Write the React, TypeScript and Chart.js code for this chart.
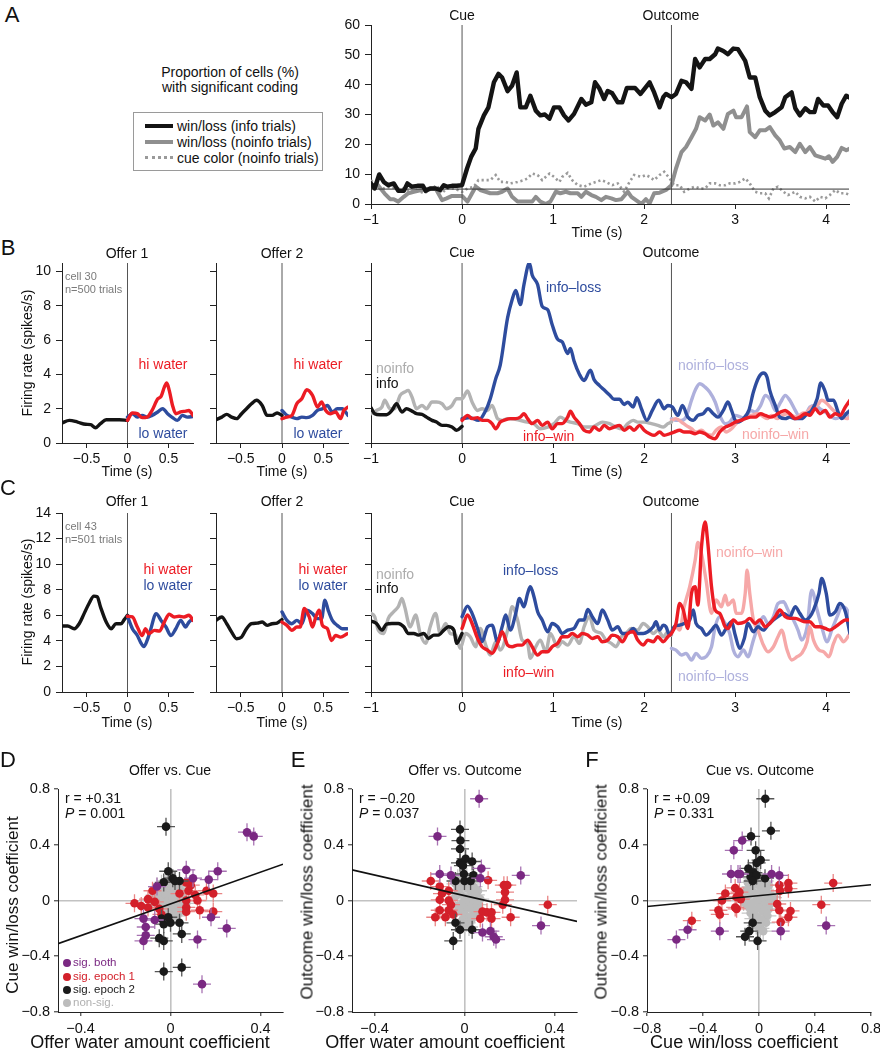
import React, { useEffect, useRef } from "react";
import { Chart, registerables } from "chart.js";

Chart.register(...registerables);

const FONT = '"Liberation Sans", Arial, Helvetica, sans-serif';
Chart.defaults.font.family = FONT;

// ================= DATA =================
// ---- Panel A: proportion of cells (%) ----
const aTimeTicks = [-1, 0, 1, 2, 3, 4];
const aPctTicks = [0, 10, 20, 30, 40, 50, 60];
const trialEvents = [0, 2.3];
const chanceLevel = 5;

const aInfoT = [-1,-0.96,-0.91,-0.86,-0.81,-0.75,-0.70,-0.64,-0.60,-0.55,-0.49,-0.43,-0.40,-0.35,-0.29,-0.24,-0.20,-0.16,-0.11,-0.06,0,0.055,0.10,0.15,0.18,0.24,0.29,0.35,0.40,0.44,0.50,0.55,0.60,0.64,0.70,0.75,0.81,0.86,0.91,0.96,1.01,1.07,1.12,1.17,1.23,1.31,1.36,1.42,1.46,1.51,1.56,1.60,1.65,1.71,1.76,1.81,1.87,1.90,1.96,2.06,2.11,2.17,2.21,2.24,2.30,2.35,2.41,2.46,2.52,2.56,2.61,2.67,2.72,2.78,2.81,2.87,2.92,2.98,3.03,3.11,3.16,3.22,3.27,3.33,3.38,3.44,3.51,3.55,3.62,3.66,3.71,3.77,3.82,3.87,3.91,3.97,4.02,4.07,4.12,4.17,4.22,4.26];
const aInfoV = [6.9,5.2,9.9,7.4,6.3,6.9,4.4,4.4,6.9,5.8,6.1,6.1,4.4,5.2,5.2,4.7,6.3,5.8,6.1,6.1,6.3,11.9,15.8,18.6,25.2,29.7,32.4,40.8,43.6,42.4,37.8,39.7,44.1,32.4,32.4,36.3,31.3,29.7,30.0,28.6,32.4,32.4,29.7,28.0,30.2,35.2,33.3,34.1,40.8,38.6,35.2,37.9,37.1,34.1,34.1,38.9,38.9,38.9,36.9,40.8,37.4,32.4,35.8,36.9,35.8,36.9,41.3,40.8,38.6,48.6,45.8,48.6,48.6,50.2,52.1,51.3,50.2,52.1,51.9,48,42.4,42.4,35.8,31.3,29.7,30.8,32.4,35.8,37.4,32.1,29.7,32.1,30.8,30.8,35.2,33,33,30.8,29.1,33.6,36.3,35.6];

const aNoinfoT = [-1,-0.93,-0.85,-0.79,-0.75,-0.70,-0.64,-0.59,-0.53,-0.40,-0.29,-0.22,-0.17,-0.11,-0.06,0,0.06,0.11,0.15,0.20,0.26,0.31,0.39,0.44,0.50,0.55,0.61,0.66,0.72,0.77,0.81,0.86,0.92,0.97,1.03,1.08,1.14,1.19,1.27,1.31,1.36,1.42,1.47,1.53,1.58,1.64,1.69,1.75,1.82,1.86,1.91,1.97,2.02,2.06,2.11,2.17,2.24,2.30,2.35,2.41,2.46,2.52,2.57,2.61,2.67,2.72,2.76,2.81,2.87,2.92,2.98,3.01,3.07,3.13,3.16,3.22,3.27,3.33,3.38,3.44,3.49,3.54,3.60,3.66,3.71,3.77,3.82,3.88,3.93,3.99,4.03,4.07,4.12,4.17,4.22,4.26];
const aNoinfoV = [6.3,6.5,3.5,1.6,1.6,0.8,2.4,3.6,4.1,5.0,5.2,1.3,1.9,2.7,2.7,2.7,0.8,3.6,5.8,4.7,4.1,3.6,3.6,4.1,5.2,2.4,0.8,0.8,0.8,0.8,2.4,0.8,0,0.8,4.1,3.6,4.1,3.6,3.6,2.4,4.1,3.0,2.4,1.3,2.4,1.9,1.3,1.6,4.1,2.4,1.3,0,1.6,0.2,3.6,3.8,4.7,6.3,11.9,17.4,19.1,22.4,25.2,29.1,28,30,26.3,27.4,25.2,30.2,31.3,29.1,29.1,32.7,24.1,22.4,24.7,24.7,25.8,23,21.3,18.6,19.1,17.4,20.2,17.4,19.1,16.3,15.8,15.2,16,14.1,15.8,18.8,18,18.6];

const aCueT = [-1,-0.94,-0.86,-0.79,-0.72,-0.64,-0.57,-0.50,-0.42,-0.35,-0.28,-0.22,-0.17,-0.09,0,0.06,0.13,0.18,0.26,0.31,0.37,0.42,0.48,0.53,0.61,0.68,0.72,0.77,0.83,0.88,0.96,1.01,1.07,1.10,1.16,1.21,1.27,1.34,1.42,1.47,1.53,1.58,1.65,1.71,1.78,1.84,1.89,1.97,2.02,2.06,2.11,2.17,2.22,2.28,2.33,2.39,2.44,2.50,2.56,2.61,2.67,2.72,2.78,2.83,2.89,2.94,3.00,3.05,3.11,3.16,3.22,3.27,3.33,3.37,3.42,3.47,3.53,3.58,3.66,3.71,3.77,3.82,3.88,3.93,3.99,4.04,4.10,4.15,4.21,4.26];
const aCueV = [8,5.8,5.2,5.8,5.2,5.2,4.1,4.7,3.6,4.7,6.3,3.6,5.2,5.2,4.1,5.2,5.8,8,8,8,9.7,7.4,7.4,6.9,7.4,8,8.6,10.2,9.7,8,10.2,9.1,7.4,9.1,10.4,8,6.3,5.8,6.9,7.4,8,7.4,6.3,6.9,4.1,7.4,9.7,9.1,9.7,9.1,8,9.7,10.8,8.6,6.3,6.3,4.1,5.2,5.8,5.2,5.2,6.9,6.9,6.3,6.3,6.9,6.9,7.4,8.6,6.9,4.1,3.6,3.6,1.9,5.2,5.8,4.1,3.0,4.1,2.4,1.9,2.4,0.8,2.4,1.9,3.0,4.7,3.6,3.6,3.0];

// ---- Panels B / C shared ticks ----
const offerTicks = [-0.5, 0, 0.5];
const offerEvents = [0];
const bRateTicks = [0, 2, 4, 6, 8, 10];
const cRateTicks = [0, 2, 4, 6, 8, 10, 12, 14];

// ---- Panel B (cell 30) ----
const b1PreT = [-0.8,-0.71,-0.61,-0.51,-0.45,-0.39,-0.33,-0.26,-0.18,-0.10,0];
const b1PreV = [1.17,1.32,1.22,1.09,1.07,0.89,1.13,1.36,1.36,1.36,1.32];
const b1HiT = [0,0.06,0.12,0.18,0.24,0.30,0.37,0.41,0.45,0.48,0.51,0.55,0.59,0.65,0.71,0.75,0.8];
const b1HiV = [1.32,1.75,1.71,1.48,1.51,1.9,2.58,2.72,3.26,3.5,3.07,2.19,1.71,1.81,1.86,1.9,1.61];
const b1LoT = [0,0.06,0.12,0.18,0.24,0.30,0.37,0.43,0.49,0.55,0.61,0.67,0.73,0.8];
const b1LoV = [1.51,1.71,1.51,1.61,1.51,1.61,1.81,2.0,1.71,1.48,1.32,1.61,1.51,1.55];

const b2PreT = [-0.8,-0.73,-0.67,-0.61,-0.55,-0.49,-0.43,-0.37,-0.31,-0.24,-0.18,-0.12,-0.06,0];
const b2PreV = [1.36,1.51,1.67,1.51,1.42,1.71,2.0,2.29,2.49,2.19,1.61,1.61,1.75,1.61];
const b2HiT = [0,0.06,0.12,0.18,0.24,0.30,0.37,0.43,0.48,0.53,0.59,0.65,0.71,0.75,0.8];
const b2HiV = [1.42,1.51,1.61,2.29,2.58,3.11,2.78,2.1,2.39,1.9,1.71,1.81,1.42,1.9,2.1];
const b2LoT = [0,0.06,0.12,0.18,0.24,0.30,0.37,0.43,0.49,0.55,0.61,0.67,0.73,0.8];
const b2LoV = [1.9,1.61,1.51,1.42,1.51,1.48,1.61,1.9,2.0,2.19,1.81,2.0,2.0,1.61];

const bInfoPreT = [-1,-0.96,-0.90,-0.83,-0.77,-0.72,-0.66,-0.61,-0.55,-0.50,-0.44,-0.39,-0.33,-0.28,-0.22,-0.17,-0.11,-0.06,0];
const bInfoPreV = [2.06,1.71,1.65,1.65,1.9,2.29,1.81,2.0,1.86,1.71,1.67,1.51,1.32,1.22,1.03,1.03,0.93,0.74,0.97];
const bNoinfoPreT = [-1,-0.94,-0.88,-0.85,-0.79,-0.74,-0.68,-0.63,-0.59,-0.55,-0.50,-0.44,-0.39,-0.33,-0.28,-0.22,-0.17,-0.11,-0.06,0,0.06,0.11,0.17,0.22,0.28,0.33,0.39,0.44,0.50,0.72,0.79,0.86,0.94,1.01,1.08,1.14,1.19,1.27,1.34,1.42,1.47,1.54,1.62,1.69,1.76,1.82,1.88,1.93,2.0,2.08,2.15,2.21,2.26,2.30];
const bNoinfoPreV = [1.71,1.9,2.1,2.49,2.0,2.0,2.78,2.97,3.07,2.68,2.0,2.19,2.0,2.39,2.39,2.29,2.0,2.19,2.58,2.58,3.03,2.39,1.9,2.0,1.9,2.19,1.42,1.32,1.42,1.22,1.13,0.83,0.93,1.13,1.51,1.32,1.22,1.13,0.93,0.93,1.03,1.22,1.13,0.93,0.83,1.13,1.32,1.22,1.22,1.13,1.03,0.93,1.13,1.22];
const bLossT = [0,0.09,0.18,0.26,0.31,0.37,0.42,0.50,0.55,0.59,0.64,0.68,0.74,0.77,0.83,0.88,0.94,0.99,1.05,1.10,1.16,1.19,1.23,1.29,1.34,1.41,1.45,1.51,1.56,1.62,1.67,1.73,1.78,1.82,1.88,1.92,1.97,2.03,2.09,2.16,2.22,2.26,2.31,2.37,2.42,2.48,2.54,2.59,2.65,2.70,2.76,2.81,2.87,2.92,2.96,3.0,3.03,3.09,3.15,3.20,3.26,3.31,3.35,3.38,3.44,3.49,3.55,3.60,3.66,3.73,3.79,3.84,3.90,3.94,3.99,4.02,4.08,4.13,4.17,4.22,4.26];
const bLossV = [1.42,1.48,1.32,1.9,2.58,3.75,4.56,7.3,8.36,8.9,8.07,9.24,10.5,9.8,9.24,7.97,7.78,6.9,6.05,5.9,5.22,5.52,4.78,4.0,3.65,4.25,3.7,3.35,3.1,2.8,2.55,2.55,2.25,2.38,2.1,2.64,2.0,1.32,1.9,2.49,2.0,2.19,2.1,1.61,2.19,1.51,1.32,1.61,1.71,2.0,1.71,1.51,1.9,2.39,1.9,1.32,1.22,1.42,1.9,2.97,3.84,4.08,3.84,3.07,2.19,1.51,1.42,1.51,1.42,1.42,1.71,1.9,2.58,3.5,2.97,2.49,2.49,1.81,1.42,1.71,1.9];
const bWinT = [0,0.06,0.11,0.17,0.22,0.28,0.33,0.37,0.42,0.48,0.53,0.59,0.64,0.68,0.72,0.77,0.83,0.88,0.94,0.99,1.05,1.10,1.16,1.19,1.23,1.29,1.34,1.40,1.45,1.51,1.56,1.62,1.67,1.73,1.78,1.84,1.89,1.95,2.0,2.06,2.11,2.17,2.22,2.28,2.33,2.39,2.44,2.50,2.56,2.61,2.67,2.72,2.78,2.83,2.89,2.94,3.0,3.06,3.11,3.17,3.22,3.28,3.33,3.39,3.44,3.5,3.55,3.60,3.66,3.71,3.77,3.82,3.88,3.93,3.99,4.04,4.10,4.15,4.21,4.26];
const bWinV = [1.32,1.61,1.42,1.48,1.32,1.32,1.13,0.83,1.22,1.36,1.42,1.42,1.51,1.71,1.42,1.13,1.32,1.03,1.22,0.83,1.13,1.13,1.51,1.86,1.51,1.13,0.74,0.64,0.93,0.74,1.03,0.83,0.93,1.03,0.74,0.93,0.74,1.03,0.74,0.54,0.45,0.64,0.45,0.54,0.64,0.74,0.64,0.64,0.54,0.64,0.54,0.35,0.25,0.64,0.93,1.03,1.22,1.32,1.42,1.51,1.51,1.71,1.61,1.51,1.61,1.81,1.9,1.71,1.42,1.51,1.71,1.61,2.0,1.71,1.9,1.51,1.71,1.61,2.1,2.49];
const bNoLossT = [2.30,2.35,2.41,2.46,2.52,2.56,2.61,2.67,2.72,2.78,2.83,2.89,2.94,3.0,3.06,3.11,3.17,3.22,3.28,3.33,3.39,3.44,3.5,3.55,3.60,3.66,3.71,3.77,3.82,3.88,3.93,3.99,4.04,4.10,4.15,4.21,4.26];
const bNoLossV = [1.42,1.32,1.32,1.51,2.49,3.07,3.46,3.26,2.97,2.39,1.61,1.13,1.22,1.61,1.51,1.42,1.9,1.81,2.19,2.78,2.49,1.9,2.39,2.78,2.49,1.9,1.51,1.61,2.1,2.19,2.0,1.81,1.61,1.42,1.51,1.71,1.51];
const bNoWinT = [2.30,2.35,2.41,2.46,2.52,2.57,2.63,2.68,2.74,2.79,2.85,2.90,2.96,3.01,3.07,3.13,3.18,3.24,3.29,3.35,3.40,3.46,3.51,3.57,3.62,3.68,3.73,3.79,3.84,3.90,3.95,4.01,4.06,4.12,4.18,4.23,4.26];
const bNoWinV = [1.32,1.42,1.22,1.03,0.83,0.64,0.74,0.54,0.45,0.74,0.93,0.64,0.83,1.13,1.32,1.51,1.61,1.71,1.61,1.42,1.61,1.42,1.61,1.71,1.61,1.51,1.71,1.81,2.1,2.19,2.49,2.29,2.0,1.71,1.51,1.42,1.51];

// ---- Panel C (cell 43) ----
const c1PreT = [-0.8,-0.73,-0.65,-0.59,-0.53,-0.47,-0.41,-0.37,-0.33,-0.26,-0.20,-0.14,-0.08,-0.04,0];
const c1PreV = [5.16,5.16,4.95,5.34,6.13,6.92,7.5,7.45,6.66,5.47,4.95,5.34,5.34,5.66,6.0];
const c1HiT = [0,0.06,0.12,0.18,0.22,0.26,0.33,0.39,0.45,0.51,0.57,0.63,0.69,0.75,0.8];
const c1HiV = [5.92,5.87,5.08,4.42,4.95,4.55,4.82,4.76,5.47,6.08,5.87,5.92,5.87,6.0,5.6];
const c1LoT = [0,0.06,0.12,0.16,0.20,0.24,0.28,0.35,0.41,0.47,0.53,0.59,0.65,0.71,0.75,0.8];
const c1LoV = [5.92,4.95,4.42,3.89,3.55,4.03,4.82,6.13,5.6,5.08,4.42,4.95,5.6,5.08,5.47,5.74];

const c2PreT = [-0.8,-0.73,-0.67,-0.61,-0.55,-0.49,-0.43,-0.37,-0.30,-0.24,-0.18,-0.12,-0.06,0];
const c2PreV = [5.6,5.87,5.34,4.68,4.16,4.29,4.95,5.34,5.39,5.47,5.21,5.34,5.39,5.66];
const c2HiT = [0,0.06,0.12,0.18,0.22,0.27,0.33,0.37,0.41,0.45,0.49,0.55,0.60,0.65,0.71,0.79];
const c2HiV = [5.47,5.21,4.82,5.08,5.08,6.53,5.87,5.08,5.87,6.39,5.21,4.95,4.03,4.42,4.29,4.55];
const c2LoT = [0,0.06,0.12,0.18,0.24,0.30,0.37,0.43,0.48,0.52,0.56,0.61,0.67,0.73,0.79];
const c2LoV = [6.26,5.6,5.34,5.6,5.34,6.39,6.13,5.74,5.74,7.18,6.39,5.6,5.21,4.95,4.95];

const cInfoPreT = [-1,-0.94,-0.88,-0.83,-0.77,-0.70,-0.64,-0.59,-0.53,-0.48,-0.42,-0.37,-0.31,-0.26,-0.20,-0.15,-0.09,-0.06,0];
const cInfoPreV = [5.55,5.36,4.84,5.31,5.36,5.36,5.1,4.58,4.58,4.45,4.58,4.19,4.45,4.45,4.84,5.1,4.84,3.8,4.58];
const cNoinfoPreT = [-1,-0.96,-0.92,-0.86,-0.81,-0.75,-0.70,-0.66,-0.63,-0.57,-0.51,-0.46,-0.40,-0.35,-0.29,-0.24,-0.18,-0.13,-0.07,-0.02,0.04,0.09,0.15,0.20,0.26,0.31,0.37,0.42,0.50,0.55,0.61,0.66,0.72,0.75,0.81,0.86,0.92,0.97,1.05,1.10,1.16,1.23,1.29,1.34,1.40,1.45,1.53,1.58,1.64,1.69,1.75,1.80,1.86,1.93,1.99,2.04,2.10,2.15,2.21,2.26,2.30];
const cNoinfoPreV = [6.15,5.89,4.84,4.58,5.76,6.28,6.67,7.32,6.67,5.1,6.02,4.58,3.8,5.1,6.15,4.58,5.36,4.58,4.45,3.41,4.58,4.32,3.54,4.97,3.67,2.89,3.93,3.28,4.84,6.67,5.63,4.06,3.8,2.63,3.54,4.06,3.15,4.58,3.54,3.93,3.67,4.32,3.8,5.1,5.89,4.84,4.58,4.06,3.8,3.54,4.32,4.58,4.97,4.84,5.36,5.1,4.58,4.84,4.32,4.71,4.45];
const cLossT = [0,0.06,0.11,0.17,0.22,0.28,0.33,0.39,0.44,0.48,0.53,0.59,0.63,0.68,0.72,0.75,0.79,0.83,0.88,0.94,0.99,1.05,1.10,1.16,1.23,1.29,1.34,1.38,1.43,1.49,1.54,1.60,1.65,1.71,1.76,1.82,1.88,1.93,1.99,2.04,2.10,2.13,2.17,2.21,2.24,2.28,2.33,2.39,2.44,2.50,2.54,2.57,2.63,2.68,2.74,2.79,2.85,2.90,2.96,3.0,3.05,3.10,3.14,3.20,3.25,3.31,3.36,3.42,3.47,3.53,3.60,3.66,3.71,3.77,3.82,3.86,3.92,3.95,4.0,4.04,4.10,4.15,4.21,4.26];
const cLossV = [5.89,6.72,6.15,4.97,3.93,5.1,5.23,3.93,5.1,6.02,4.84,6.15,7.32,6.67,7.71,8.23,7.45,6.28,5.63,4.71,5.36,5.1,4.58,4.84,4.97,5.63,5.63,6.46,5.89,5.36,6.41,5.63,4.84,5.1,4.58,4.58,4.97,4.58,4.58,4.71,5.1,5.49,4.84,5.23,5.1,4.45,5.1,5.23,5.36,5.63,6.41,5.36,4.97,4.45,4.84,5.23,4.45,4.97,5.49,4.45,3.41,4.19,5.36,4.71,5.1,4.84,5.23,5.63,5.89,6.15,5.89,6.67,6.15,5.63,5.89,6.41,7.71,8.88,7.71,6.02,6.28,6.93,6.28,4.58];
const cWinT = [0,0.06,0.11,0.17,0.22,0.28,0.33,0.39,0.44,0.50,0.55,0.61,0.66,0.72,0.77,0.83,0.88,0.94,0.99,1.05,1.10,1.16,1.21,1.27,1.32,1.38,1.43,1.49,1.54,1.60,1.65,1.71,1.76,1.82,1.88,1.93,1.99,2.04,2.10,2.15,2.21,2.26,2.30,2.35,2.39,2.43,2.48,2.52,2.56,2.59,2.63,2.67,2.70,2.74,2.78,2.83,2.89,2.92,2.98,3.03,3.11,3.16,3.22,3.27,3.33,3.38,3.44,3.49,3.55,3.60,3.66,3.71,3.77,3.82,3.88,3.93,3.99,4.04,4.10,4.15,4.21,4.26];
const cWinV = [4.97,6.02,5.36,4.19,3.54,3.28,3.02,3.8,4.71,3.67,3.54,3.67,3.67,4.06,3.54,2.89,3.15,3.15,3.54,3.8,4.32,4.32,4.58,4.32,4.58,4.45,4.19,4.32,3.93,4.06,4.45,4.32,3.93,4.58,4.71,4.06,3.67,4.06,3.93,4.32,3.93,4.32,4.58,5.36,6.93,6.41,4.97,7.71,8.23,6.8,11.35,13.3,11.6,8.23,6.41,6.15,5.1,4.97,5.63,5.36,5.49,5.76,5.36,5.63,5.1,5.36,5.89,6.41,5.89,5.76,5.76,5.63,5.49,5.49,5.1,5.1,4.97,4.84,5.1,5.36,5.63,5.63];
const cNoWinT = [2.30,2.35,2.39,2.44,2.50,2.56,2.59,2.63,2.68,2.74,2.79,2.85,2.89,2.92,2.98,3.01,3.07,3.11,3.13,3.16,3.20,3.25,3.31,3.36,3.42,3.47,3.51,3.57,3.62,3.68,3.73,3.79,3.82,3.86,3.92,3.97,4.03,4.08,4.13,4.19,4.26];
const cNoWinV = [4.71,5.1,4.84,6.67,8.23,10.3,11.7,10.8,8.75,6.15,7.19,6.67,7.58,6.8,7.19,6.15,6.15,7.71,9.53,7.71,5.63,4.84,3.67,3.15,3.54,4.32,4.84,3.28,2.5,2.76,3.02,3.93,5.1,4.06,3.28,3.15,2.76,3.8,4.45,3.93,4.58];
const cNoLossT = [2.30,2.35,2.41,2.46,2.52,2.57,2.63,2.68,2.74,2.78,2.83,2.89,2.94,2.98,3.03,3.09,3.14,3.20,3.25,3.31,3.36,3.42,3.47,3.53,3.58,3.64,3.69,3.73,3.79,3.84,3.90,3.95,4.01,4.06,4.12,4.17,4.23,4.26];
const cNoLossV = [3.41,3.28,2.89,3.02,2.5,3.02,2.63,2.76,3.54,5.1,5.89,5.36,4.58,3.28,2.76,3.28,2.76,4.06,5.1,5.89,5.36,5.89,6.93,7.06,6.41,5.63,4.84,4.06,5.1,7.97,6.41,5.1,3.93,4.84,5.89,6.67,6.41,5.36];

// ---- Panels D/E/F: coefficient scatter ----
const coefTicks = [-0.8, -0.4, 0, 0.4, 0.8];
const offerCoefTicks = [-0.4, 0, 0.4];

const dBothX = [0.34,0.37,0.07,0.21,0.10,0.17,-0.06,-0.12,-0.07,-0.11,-0.11,-0.12,0.12,0.18,0.25,0.14];
const dBothY = [0.49,0.46,0.22,0.21,0.16,0.15,0.10,-0.13,-0.14,-0.19,-0.25,-0.29,-0.28,-0.12,-0.20,-0.60];
const dEp1X = [-0.16,-0.13,-0.10,-0.10,-0.07,-0.05,-0.08,0.04,0.07,0.07,0.08,0.09,0.11,0.12,0.07,0.13,0.16,0.19,0.19,-0.04,0.07];
const dEp1Y = [-0.02,-0.04,0.01,-0.05,-0.01,-0.06,0.07,0.05,0,-0.05,0.07,0.11,0.04,0,-0.08,-0.07,0.07,0.05,-0.08,-0.10,0.13];
const dEp2X = [-0.02,-0.01,-0.03,0.01,0.04,0.02,-0.04,-0.03,0,0.04,-0.05,-0.03,0.05,-0.03,0.05,-0.01];
const dEp2Y = [0.53,0.21,0.13,0.16,0.14,0.14,-0.13,-0.17,-0.16,-0.16,-0.27,-0.29,-0.24,-0.51,-0.48,-0.12];
const dNsX = [-0.06,-0.04,-0.02,0,0.02,0.04,0.06,-0.07,-0.05,-0.03,-0.01,0.01,0.03,0.05,-0.06,-0.04,-0.02,0,0.02,0.04,-0.05,-0.03,-0.01,0.01,0.03,0.05,-0.04,-0.02,0,0.02,0.04,-0.03,-0.01,0.01,0.03,-0.02,0,0.02,-0.08,0.07];
const dNsY = [0.10,0.12,0.14,0.15,0.12,0.10,0.06,0.04,0.07,0.09,0.10,0.08,0.06,0.02,-0.01,0.02,0.04,0.05,0.03,0.00,-0.04,-0.02,0.00,0.01,-0.03,-0.05,-0.07,-0.05,-0.03,-0.06,-0.08,-0.10,-0.08,-0.10,-0.11,-0.12,-0.13,-0.09,0.00,-0.02];
const dFitX = [-0.5, 0.5];
const dFitY = [-0.31, 0.26];

const eBothX = [0.065,-0.12,-0.11,-0.06,0.075,0.07,0.25,0.08,0.115,0.13,0.14,0.34];
const eBothY = [0.73,0.46,0.19,0.18,0.23,0.16,0.18,-0.23,-0.22,-0.26,-0.28,-0.18];
const eEp1X = [-0.15,-0.11,-0.10,-0.07,-0.11,-0.07,-0.06,-0.11,-0.07,-0.13,-0.085,0.105,0.175,0.19,0.18,0.18,0.17,0.08,0.10,0.12,0.07,0.12,0.205,0.37,-0.05];
const eEp1Y = [0.14,0.10,0.05,0.07,0.005,0,-0.03,-0.07,-0.07,-0.12,-0.12,0.145,0.11,0.11,0.06,0.005,-0.03,-0.08,-0.085,-0.085,-0.13,-0.13,-0.12,-0.03,-0.10];
const eEp2X = [-0.02,-0.018,-0.02,-0.02,0.005,0.034,-0.007,-0.003,0.04,-0.04,0,0.027,-0.04,-0.02,0.034,-0.05];
const eEp2Y = [0.51,0.43,0.37,0.27,0.30,0.28,0.25,0.19,0.18,0.14,0.14,0.14,-0.16,-0.21,-0.21,-0.29];
const eNsX = [-0.04,-0.02,0,0.02,0.04,0.06,-0.03,-0.01,0.01,0.03,0.05,0.07,-0.04,-0.02,0,0.02,0.04,0.06,-0.03,-0.01,0.01,0.03,0.05,-0.04,-0.02,0,0.02,0.04,-0.01,0.01,0.03,0,0.02,-0.03,0.06,0.01];
const eNsY = [0.12,0.14,0.15,0.13,0.10,0.07,0.08,0.10,0.09,0.06,0.04,0.01,0.03,0.05,0.02,0.00,-0.01,-0.03,-0.04,-0.02,-0.05,-0.06,-0.08,-0.09,-0.07,-0.10,-0.12,-0.11,-0.14,-0.16,-0.14,-0.18,-0.19,0.16,-0.06,0.17];
const eFitX = [-0.5, 0.5];
const eFitY = [0.22, -0.15];

const fBothX = [-0.12,-0.18,-0.20,-0.15,-0.135,0.09,0.145,-0.28,-0.51,-0.59,0.155,0.48];
const fBothY = [0.43,0.36,0.19,0.19,0.19,0.19,0.18,-0.22,-0.21,-0.28,-0.22,-0.18];
const fEp1X = [-0.24,-0.17,-0.14,-0.13,-0.16,-0.265,-0.29,-0.28,-0.17,-0.16,-0.48,0.145,0.15,0.21,0.21,0.13,0.145,0.155,0.21,0.225,0.445,0.53];
const fEp1Y = [0.05,0.09,0.06,0.01,0.025,0,-0.07,-0.10,-0.05,-0.06,-0.145,0.11,0.07,0.125,0.085,-0.025,-0.07,-0.155,-0.12,-0.075,-0.03,0.125];
const fEp2X = [0.045,0.085,-0.057,-0.024,0.012,-0.017,-0.076,-0.04,-0.06,-0.017,0.043,-0.045,-0.045,-0.07,-0.10,-0.01];
const fEp2Y = [0.73,0.50,0.46,0.36,0.29,0.27,0.23,0.20,0.17,0.18,0.16,0.14,-0.16,-0.22,-0.26,-0.29];
const fNsX = [-0.08,-0.05,-0.02,0.01,0.04,0.07,-0.09,-0.06,-0.03,0,0.03,0.06,0.09,-0.10,-0.07,-0.04,-0.01,0.02,0.05,0.08,-0.08,-0.05,-0.02,0.01,0.04,0.07,-0.06,-0.03,0,0.03,0.06,-0.04,-0.01,0.02,0.05,-0.02,0.01,0.03,-0.11,0.10];
const fNsY = [0.13,0.16,0.18,0.17,0.14,0.11,0.07,0.10,0.12,0.11,0.09,0.06,0.03,0.01,0.04,0.06,0.05,0.03,0.01,-0.02,-0.04,-0.02,0.00,-0.01,-0.03,-0.06,-0.09,-0.07,-0.05,-0.08,-0.11,-0.13,-0.12,-0.14,-0.16,-0.18,-0.20,-0.22,-0.01,0.02];
const fFitX = [-0.8, 0.8];
const fFitY = [-0.043, 0.113];

// ================= STYLE =================
const TXT = "#111";
const AXIS = "#222";
const EVENT = "#555";
const ZERO = "#c2c2c2";
const RED = "#ec1c24";
const BLUE = "#2e4c9e";
const LAV = "#aeb0dc";
const PINK = "#f6a8a8";
const GRAYL = "#b3b3b3";
const BLACK = "#141414";

const P_BOTH = "#7a2882", P_BOTH_BAR = "#a873b3";
const P_EP1 = "#d3202a", P_EP1_BAR = "#e98585";
const P_EP2 = "#1a1a1a", P_EP2_BAR = "#555555";
const P_NS = "#bcbcbc", P_NS_BAR = "#c6c6c6";

function pts(xs: number[], ys: number[]) {
  return xs.map((x, i) => ({ x, y: ys[i] }));
}
function fmt(v: number) {
  if (Math.abs(v) < 1e-9) return "0";
  return v < 0 ? "\u2212" + String(Math.abs(v)) : String(v);
}

function lineDs(data: any[], color: string, width: number, order: number, extra: any = {}) {
  return {
    data, showLine: true, borderColor: color, backgroundColor: color, borderWidth: width,
    pointRadius: 0, pointHoverRadius: 0, fill: false, order,
    borderJoinStyle: "round", borderCapStyle: "round", ...extra,
  };
}
function smooth(xs: number[], ys: number[], color: string, order: number, width = 3.4) {
  return lineDs(pts(xs, ys), color, width, order, { cubicInterpolationMode: "monotone", tension: 0.4 });
}
function vLines(ts: number[], yMin: number, yMax: number, order: number) {
  return ts.map((t) => lineDs([{ x: t, y: yMin }, { x: t, y: yMax }], EVENT, 1, order, { borderCapStyle: "butt" }));
}

function timeOptions(o: any) {
  return {
    responsive: false,
    animation: false,
    events: [],
    layout: { padding: { top: o.padT, right: o.padR, left: 0, bottom: 0 } },
    plugins: { legend: { display: false }, tooltip: { enabled: false } },
    scales: {
      x: {
        type: "linear", min: o.xMin, max: o.xMax,
        afterBuildTicks: (s: any) => { s.ticks = o.xTicks.map((v: number) => ({ value: v })); },
        afterFit: (s: any) => { s.height = o.xH; },
        ticks: { autoSkip: false, maxRotation: 0, padding: 3, color: TXT, font: { size: 14, family: FONT }, callback: (v: any) => fmt(Number(v)) },
        grid: { drawOnChartArea: false, drawTicks: true, tickLength: 5, tickColor: AXIS, tickWidth: 1 },
        border: { display: true, color: AXIS, width: 1 },
      },
      y: {
        type: "linear", min: o.yMin, max: o.yMax,
        afterBuildTicks: (s: any) => { s.ticks = o.yTicks.map((v: number) => ({ value: v })); },
        afterFit: (s: any) => { s.width = o.yW; },
        ticks: { autoSkip: false, padding: 5, color: TXT, font: { size: 14, family: FONT }, callback: (v: any) => (o.yLabels ? fmt(Number(v)) : "") },
        grid: { drawOnChartArea: false, drawTicks: true, tickLength: 6, tickColor: AXIS, tickWidth: 1 },
        border: { display: true, color: AXIS, width: 1 },
      },
    },
  };
}

function scatterOptions(o: any) {
  const grid = {
    drawOnChartArea: true,
    color: (c: any) => (c.tick && Math.abs(c.tick.value) < 1e-9 ? ZERO : "rgba(0,0,0,0)"),
    lineWidth: 1.6, drawTicks: true, tickLength: 4, tickColor: AXIS, tickWidth: 1,
  };
  return {
    responsive: false,
    animation: false,
    events: [],
    layout: { padding: { top: o.padT, right: o.padR, left: 0, bottom: 0 } },
    plugins: { legend: { display: false }, tooltip: { enabled: false } },
    scales: {
      x: {
        type: "linear", min: o.xMin, max: o.xMax,
        afterBuildTicks: (s: any) => { s.ticks = o.xTicks.map((v: number) => ({ value: v })); },
        afterFit: (s: any) => { s.height = o.xH; },
        ticks: { autoSkip: false, maxRotation: 0, padding: 4, color: TXT, font: { size: 14.5, family: FONT }, callback: (v: any) => fmt(Number(v)) },
        grid, border: { display: true, color: AXIS, width: 1 },
      },
      y: {
        type: "linear", min: -0.8, max: 0.8,
        afterBuildTicks: (s: any) => { s.ticks = coefTicks.map((v: number) => ({ value: v })); },
        afterFit: (s: any) => { s.width = o.yW; },
        ticks: { autoSkip: false, padding: 4, color: TXT, font: { size: 14.5, family: FONT }, callback: (v: any) => fmt(Number(v)) },
        grid, border: { display: true, color: AXIS, width: 1 },
      },
    },
  };
}

function groupDs(xs: number[], ys: number[], dot: string, bar: string, order: number) {
  const data = pts(xs, ys);
  return [
    { data, pointStyle: "circle", pointRadius: 4.3, pointHoverRadius: 4.3, pointBackgroundColor: dot, pointBorderWidth: 0, order },
    { data, pointStyle: "cross", pointRadius: 9, pointHoverRadius: 9, pointBorderColor: bar, pointBackgroundColor: "rgba(0,0,0,0)", pointBorderWidth: 1.3, order: order + 0.5 },
  ];
}
function scatterDatasets(g: any) {
  return [
    lineDs(pts(g.fitX, g.fitY), "#111", 1.6, 0, { borderCapStyle: "butt" }),
    ...groupDs(g.bothX, g.bothY, P_BOTH, P_BOTH_BAR, 1),
    ...groupDs(g.ep2X, g.ep2Y, P_EP2, P_EP2_BAR, 2),
    ...groupDs(g.ep1X, g.ep1Y, P_EP1, P_EP1_BAR, 3),
    ...groupDs(g.nsX, g.nsY, P_NS, P_NS_BAR, 4),
  ];
}

// ================= COMPONENTS =================
function ChartSlot(p: any) {
  const ref = useRef<HTMLCanvasElement | null>(null);
  const left = p.plot.l - p.yW;
  const top = p.plot.t - p.padT;
  const width = p.plot.r + p.padR - left;
  const height = p.plot.b + p.xH - top;
  useEffect(() => {
    const chart = new Chart(ref.current as HTMLCanvasElement, p.build({ yW: p.yW, xH: p.xH, padT: p.padT, padR: p.padR }) as any);
    return () => chart.destroy();
  }, []);
  return <canvas ref={ref} width={width} height={height} style={{ position: "absolute", left, top, width, height }} />;
}

function Tx(p: any) {
  const anchor = p.anchor || "middle";
  const tx = anchor === "middle" ? "-50%" : anchor === "end" ? "-100%" : "0";
  const style: any = {
    position: "absolute", left: p.x, top: p.y,
    transform: p.rotate ? "translate(-50%,-50%) rotate(-90deg)" : `translate(${tx},-50%)`,
    fontSize: p.size || 14, fontFamily: FONT, color: p.color || TXT, whiteSpace: "nowrap", lineHeight: 1,
    fontStyle: p.italic ? "italic" : "normal",
  };
  return <div style={style}>{p.children}</div>;
}

function Dot(p: any) {
  return <div style={{ position: "absolute", left: p.x - 4.3, top: p.y - 4.3, width: 8.6, height: 8.6, borderRadius: "50%", background: p.color }} />;
}

// ================= APP =================
export default function App() {
  const timeChart = (datasets: any[], o: any) => (lay: any) => ({ type: "scatter", data: { datasets }, options: timeOptions({ ...o, ...lay }) });

  const aBuild = timeChart(
    [
      lineDs(pts(aInfoT, aInfoV), BLACK, 4.4, 0),
      lineDs([{ x: -1, y: chanceLevel }, { x: 4.25, y: chanceLevel }], "#333", 1, 1, { borderCapStyle: "butt" }),
      ...vLines(trialEvents, 0, 60, 1),
      lineDs(pts(aNoinfoT, aNoinfoV), "#8f8f8f", 4, 2),
      lineDs(pts(aCueT, aCueV), "#9a9a9a", 2.6, 3, { borderDash: [2.2, 2.8], borderCapStyle: "butt", borderJoinStyle: "miter" }),
    ],
    { xMin: -1, xMax: 4.25, xTicks: aTimeTicks, yMin: 0, yMax: 60, yTicks: aPctTicks, yLabels: true }
  );

  const offerBuild = (pre: any, hi: any, lo: any, yMax: number, yTicks: number[], yLabels: boolean) =>
    timeChart(
      [
        smooth(hi[0], hi[1], RED, 0),
        smooth(lo[0], lo[1], BLUE, 1),
        smooth(pre[0], pre[1], BLACK, 2),
        ...vLines(offerEvents, 0, yMax, 5),
      ],
      { xMin: -0.8, xMax: 0.8, xTicks: offerTicks, yMin: 0, yMax, yTicks, yLabels }
    );

  const trialBuild = (s: any, yMax: number, yTicks: number[]) =>
    timeChart(
      [
        smooth(s.winT, s.winV, RED, 0),
        smooth(s.lossT, s.lossV, BLUE, 1),
        smooth(s.infoT, s.infoV, BLACK, 2),
        smooth(s.noinfoT, s.noinfoV, GRAYL, 3),
        smooth(s.noWinT, s.noWinV, PINK, 4),
        smooth(s.noLossT, s.noLossV, LAV, 5),
        ...vLines(trialEvents, 0, yMax, 6),
      ],
      { xMin: -1, xMax: 4.25, xTicks: aTimeTicks, yMin: 0, yMax, yTicks, yLabels: false }
    );

  const scatterBuild = (g: any, xMin: number, xMax: number, xTicks: number[]) => (lay: any) => ({
    type: "scatter",
    data: { datasets: scatterDatasets(g) },
    options: scatterOptions({ xMin, xMax, xTicks, ...lay }),
  });

  const B_T = 263, B_B = 443, C_T = 513, C_B = 692;
  const S_T = 789, S_B = 1012;

  return (
    <div style={{ position: "absolute", left: 0, top: 0, width: 880, height: 1050, overflow: "hidden", background: "#fff" }}>
      {/* Panel A */}
      <ChartSlot plot={{ l: 371, t: 25, r: 849, b: 204 }} yW={45} xH={26} padT={20} padR={25} build={aBuild} />

      {/* Panel B */}
      <ChartSlot plot={{ l: 62, t: B_T, r: 193, b: B_B }} yW={45} xH={26} padT={20} padR={10} build={offerBuild([b1PreT, b1PreV], [b1HiT, b1HiV], [b1LoT, b1LoV], 10.5, bRateTicks, true)} />
      <ChartSlot plot={{ l: 216, t: B_T, r: 348, b: B_B }} yW={20} xH={26} padT={20} padR={10} build={offerBuild([b2PreT, b2PreV], [b2HiT, b2HiV], [b2LoT, b2LoV], 10.5, bRateTicks, false)} />
      <ChartSlot plot={{ l: 371, t: B_T, r: 849, b: B_B }} yW={20} xH={26} padT={20} padR={25}
        build={trialBuild({ winT: bWinT, winV: bWinV, lossT: bLossT, lossV: bLossV, infoT: bInfoPreT, infoV: bInfoPreV, noinfoT: bNoinfoPreT, noinfoV: bNoinfoPreV, noWinT: bNoWinT, noWinV: bNoWinV, noLossT: bNoLossT, noLossV: bNoLossV }, 10.5, bRateTicks)} />

      {/* Panel C */}
      <ChartSlot plot={{ l: 62, t: C_T, r: 193, b: C_B }} yW={45} xH={26} padT={20} padR={10} build={offerBuild([c1PreT, c1PreV], [c1HiT, c1HiV], [c1LoT, c1LoV], 14, cRateTicks, true)} />
      <ChartSlot plot={{ l: 216, t: C_T, r: 348, b: C_B }} yW={20} xH={26} padT={20} padR={10} build={offerBuild([c2PreT, c2PreV], [c2HiT, c2HiV], [c2LoT, c2LoV], 14, cRateTicks, false)} />
      <ChartSlot plot={{ l: 371, t: C_T, r: 849, b: C_B }} yW={20} xH={26} padT={20} padR={25}
        build={trialBuild({ winT: cWinT, winV: cWinV, lossT: cLossT, lossV: cLossV, infoT: cInfoPreT, infoV: cInfoPreV, noinfoT: cNoinfoPreT, noinfoV: cNoinfoPreV, noWinT: cNoWinT, noWinV: cNoWinV, noLossT: cNoLossT, noLossV: cNoLossV }, 14, cRateTicks)} />

      {/* Panels D E F */}
      <ChartSlot plot={{ l: 58, t: S_T, r: 283, b: S_B }} yW={58} xH={38} padT={20} padR={22}
        build={scatterBuild({ bothX: dBothX, bothY: dBothY, ep1X: dEp1X, ep1Y: dEp1Y, ep2X: dEp2X, ep2Y: dEp2Y, nsX: dNsX, nsY: dNsY, fitX: dFitX, fitY: dFitY }, -0.5, 0.5, offerCoefTicks)} />
      <ChartSlot plot={{ l: 352, t: S_T, r: 577, b: S_B }} yW={58} xH={38} padT={20} padR={22}
        build={scatterBuild({ bothX: eBothX, bothY: eBothY, ep1X: eEp1X, ep1Y: eEp1Y, ep2X: eEp2X, ep2Y: eEp2Y, nsX: eNsX, nsY: eNsY, fitX: eFitX, fitY: eFitY }, -0.5, 0.5, offerCoefTicks)} />
      <ChartSlot plot={{ l: 647, t: S_T, r: 871, b: S_B }} yW={58} xH={38} padT={20} padR={22}
        build={scatterBuild({ bothX: fBothX, bothY: fBothY, ep1X: fEp1X, ep1Y: fEp1Y, ep2X: fEp2X, ep2Y: fEp2Y, nsX: fNsX, nsY: fNsY, fitX: fFitX, fitY: fFitY }, -0.8, 0.8, coefTicks)} />

      {/* ---------- Texts: panel A ---------- */}
      <Tx x={12} y={15} size={22}>A</Tx>
      <Tx x={462} y={15}>Cue</Tx>
      <Tx x={671} y={15}>Outcome</Tx>
      <Tx x={230} y={72}>Proportion of cells (%)</Tx>
      <Tx x={230} y={87}>with significant coding</Tx>
      <div style={{ position: "absolute", left: 133, top: 112, width: 190, height: 59, border: "1px solid #9a9a9a", boxSizing: "border-box" }} />
      <div style={{ position: "absolute", left: 145, top: 124, width: 28, height: 4, background: BLACK }} />
      <div style={{ position: "absolute", left: 145, top: 140, width: 28, height: 4, background: "#8f8f8f" }} />
      <div style={{ position: "absolute", left: 145, top: 156, width: 28, height: 0, borderTop: "3px dotted #9a9a9a" }} />
      <Tx x={177} y={126} anchor="start">win/loss (info trials)</Tx>
      <Tx x={177} y={142} anchor="start">win/loss (noinfo trials)</Tx>
      <Tx x={177} y={158} anchor="start">cue color (noinfo trials)</Tx>
      <Tx x={597} y={232}>Time (s)</Tx>

      {/* ---------- Texts: panel B ---------- */}
      <Tx x={8} y={248} size={22}>B</Tx>
      <Tx x={127} y={253}>Offer 1</Tx>
      <Tx x={282} y={253}>Offer 2</Tx>
      <Tx x={462} y={252}>Cue</Tx>
      <Tx x={671} y={252}>Outcome</Tx>
      <Tx x={65} y={276} anchor="start" size={11} color="#7a7a7a">cell 30</Tx>
      <Tx x={65} y={289} anchor="start" size={11} color="#7a7a7a">n=500 trials</Tx>
      <Tx x={163} y={364} color={RED}>hi water</Tx>
      <Tx x={163} y={433} color={BLUE}>lo water</Tx>
      <Tx x={318} y={364} color={RED}>hi water</Tx>
      <Tx x={318} y={433} color={BLUE}>lo water</Tx>
      <Tx x={376} y={368} anchor="start" color="#acacac">noinfo</Tx>
      <Tx x={376} y={383} anchor="start">info</Tx>
      <Tx x={546} y={287} anchor="start" color={BLUE}>info–loss</Tx>
      <Tx x={678} y={365} anchor="start" color={LAV}>noinfo–loss</Tx>
      <Tx x={523} y={436} anchor="start" color={RED}>info–win</Tx>
      <Tx x={742} y={434} anchor="start" color={PINK}>noinfo–win</Tx>
      <Tx x={27} y={353} rotate>Firing rate (spikes/s)</Tx>
      <Tx x={127} y={471}>Time (s)</Tx>
      <Tx x={282} y={471}>Time (s)</Tx>
      <Tx x={597} y={471}>Time (s)</Tx>

      {/* ---------- Texts: panel C ---------- */}
      <Tx x={8} y={488} size={22}>C</Tx>
      <Tx x={127} y={501}>Offer 1</Tx>
      <Tx x={282} y={501}>Offer 2</Tx>
      <Tx x={462} y={501}>Cue</Tx>
      <Tx x={671} y={501}>Outcome</Tx>
      <Tx x={65} y={526} anchor="start" size={11} color="#7a7a7a">cell 43</Tx>
      <Tx x={65} y={539} anchor="start" size={11} color="#7a7a7a">n=501 trials</Tx>
      <Tx x={168} y={569} color={RED}>hi water</Tx>
      <Tx x={168} y={585} color={BLUE}>lo water</Tx>
      <Tx x={323} y={569} color={RED}>hi water</Tx>
      <Tx x={323} y={585} color={BLUE}>lo water</Tx>
      <Tx x={376} y={574} anchor="start" color="#acacac">noinfo</Tx>
      <Tx x={376} y={588} anchor="start">info</Tx>
      <Tx x={503} y={570} anchor="start" color={BLUE}>info–loss</Tx>
      <Tx x={503} y={672} anchor="start" color={RED}>info–win</Tx>
      <Tx x={716} y={552} anchor="start" color={PINK}>noinfo–win</Tx>
      <Tx x={678} y={676} anchor="start" color={LAV}>noinfo–loss</Tx>
      <Tx x={27} y={602} rotate>Firing rate (spikes/s)</Tx>
      <Tx x={127} y={722}>Time (s)</Tx>
      <Tx x={282} y={722}>Time (s)</Tx>
      <Tx x={597} y={722}>Time (s)</Tx>

      {/* ---------- Texts: panels D E F ---------- */}
      <Tx x={8} y={760} size={22}>D</Tx>
      <Tx x={298} y={760} size={22}>E</Tx>
      <Tx x={592} y={760} size={22}>F</Tx>
      <Tx x={170} y={770}>Offer vs. Cue</Tx>
      <Tx x={465} y={770}>Offer vs. Outcome</Tx>
      <Tx x={760} y={770}>Cue vs. Outcome</Tx>
      <Tx x={65} y={798} anchor="start">r = +0.31</Tx>
      <Tx x={65} y={813} anchor="start"><i>P</i> = 0.001</Tx>
      <Tx x={359} y={798} anchor="start">r = −0.20</Tx>
      <Tx x={359} y={813} anchor="start"><i>P</i> = 0.037</Tx>
      <Tx x={654} y={798} anchor="start">r = +0.09</Tx>
      <Tx x={654} y={813} anchor="start"><i>P</i> = 0.331</Tx>

      <Dot x={67} y={963} color={P_BOTH} />
      <Dot x={67} y={977} color={P_EP1} />
      <Dot x={67} y={990} color={P_EP2} />
      <Dot x={67} y={1003} color={P_NS} />
      <Tx x={73} y={963} anchor="start" size={11.5} color={P_BOTH}>sig. both</Tx>
      <Tx x={73} y={977} anchor="start" size={11.5} color={P_EP1}>sig. epoch 1</Tx>
      <Tx x={73} y={990} anchor="start" size={11.5} color={P_EP2}>sig. epoch 2</Tx>
      <Tx x={73} y={1003} anchor="start" size={11.5} color="#b0b0b0">non-sig.</Tx>

      <Tx x={150} y={1042} size={18}>Offer water amount coefficient</Tx>
      <Tx x={445} y={1042} size={18}>Offer water amount coefficient</Tx>
      <Tx x={744} y={1042} size={18}>Cue win/loss coefficient</Tx>
      <Tx x={12} y={905} size={17} rotate>Cue win/loss coefficient</Tx>
      <Tx x={307} y={892} size={17} rotate>Outcome win/loss coefficient</Tx>
      <Tx x={601} y={892} size={17} rotate>Outcome win/loss coefficient</Tx>
    </div>
  );
}
